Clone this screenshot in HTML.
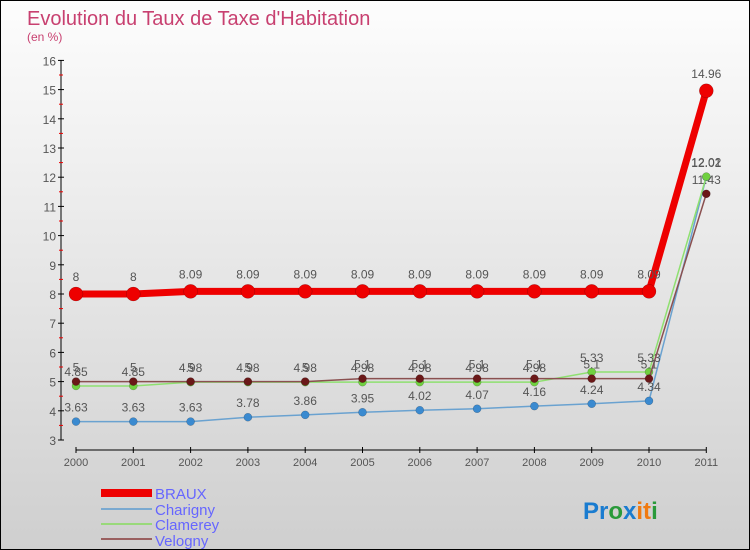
<!DOCTYPE html>
<html><head><meta charset="utf-8"><style>
body{margin:0}
#wrap{width:748px;height:548px;border:1px solid #000;background:linear-gradient(#fdfdfd,#cfcfcf);position:relative;font-family:"Liberation Sans",sans-serif;overflow:hidden}
svg text{font-family:"Liberation Sans",sans-serif}
</style></head><body>
<div id="wrap">
<svg id="chart" width="748" height="548">
<text x="26" y="24" font-size="20" fill="#c84070">Evolution du Taux de Taxe d'Habitation</text>
<text x="26" y="40" font-size="12" fill="#c84070">(en %)</text>
<g id="axes"></g><g id="series"></g>
<g>
<rect x="100" y="488" width="51" height="8" fill="#e00"/>
<text x="154" y="498" font-size="15" fill="#66f">BRAUX</text>
<rect x="100" y="507" width="51" height="2" fill="#7aa9d0"/>
<text x="154" y="514" font-size="15" fill="#66f">Charigny</text>
<rect x="100" y="522" width="51" height="2" fill="#99d97a"/>
<text x="154" y="529" font-size="15" fill="#66f">Clamerey</text>
<rect x="100" y="537" width="51" height="2" fill="#9a6060"/>
<text x="154" y="545" font-size="15" fill="#66f">Velogny</text>
</g>
<text x="582" y="518" font-size="24" font-weight="bold"><tspan fill="#1a7cd0">Pr</tspan><tspan fill="#2a9a3a">o</tspan><tspan fill="#1a7cd0">x</tspan><tspan fill="#f07a10">it</tspan><tspan fill="#2a9a3a">i</tspan></text>
</svg></div>
<script>
const years=[2000,2001,2002,2003,2004,2005,2006,2007,2008,2009,2010,2011];
const braux=[8,8,8.09,8.09,8.09,8.09,8.09,8.09,8.09,8.09,8.09,14.96];
const charigny=[3.63,3.63,3.63,3.78,3.86,3.95,4.02,4.07,4.16,4.24,4.34,12.01];
const clamerey=[4.85,4.85,4.98,4.98,4.98,4.98,4.98,4.98,4.98,5.33,5.33,12.02];
const velogny=[5,5,5,5,5,5.1,5.1,5.1,5.1,5.1,5.1,11.43];
const yTicks=[3,4,5,6,7,8,9,10,11,12,13,14,15,16];
const NS='http://www.w3.org/2000/svg';
function X(i){return 75+i*57.3;}
function Y(v){return 439-(v-3)*29.2;}
function mk(t,a,p){const e=document.createElementNS(NS,t);for(const k in a)e.setAttribute(k,a[k]);p.appendChild(e);return e;}
const ax=document.getElementById('axes');
const yl=mk('line',{x1:60,y1:Y(16),x2:60,y2:Y(3),stroke:'#000'},ax);


const xl=mk('line',{x1:X(0),y1:449,x2:X(11),y2:449,stroke:'#000'},ax);


yTicks.forEach(v=>{
 mk('line',{x1:57,x2:63,y1:Y(v),y2:Y(v),stroke:'#000'},ax);
 if(v<16) mk('line',{x1:58,x2:62,y1:Y(v+0.5),y2:Y(v+0.5),stroke:'#e00'},ax);
 const t=mk('text',{x:55,y:Y(v)+5,'text-anchor':'end','font-size':12,fill:'#555'},ax);
 t.textContent=v;
 
 
});
years.forEach((y,i)=>{
 mk('line',{x1:X(i),x2:X(i),y1:446,y2:452,stroke:'#000'},ax);
 const t=mk('text',{x:X(i),y:465,'text-anchor':'middle','font-size':11,fill:'#555'},ax);
 t.textContent=y;
 
 
});
const sg=document.getElementById('series');
function draw(name,vals,col,w,r,mcol){
 const g=mk('g',{},sg);
 
 
 mk('polyline',{points:vals.map((v,i)=>X(i)+','+Y(v)).join(' '),fill:'none',stroke:col,'stroke-width':w},g);
 vals.forEach((v,i)=>{
  const c=mk('circle',{cx:X(i),cy:Y(v),r:r,fill:mcol,stroke:'rgba(0,0,0,0.3)','stroke-width':0.5},g);
  
  
  const t=mk('text',{x:X(i),y:Y(v)-(r+6),'text-anchor':'middle','font-size':12,fill:'#555'},g);
  t.textContent=v;
  
  
 });
}
draw('charigny',charigny,'#6aa2d0',1.5,4,'#3a8ad0');
draw('clamerey',clamerey,'#8fe070',1.5,4,'#70d040');
draw('velogny',velogny,'#8a5050',1.5,4,'#6a1818');
draw('braux',braux,'#e00',7,7,'#e00');
</script>
</body></html>
